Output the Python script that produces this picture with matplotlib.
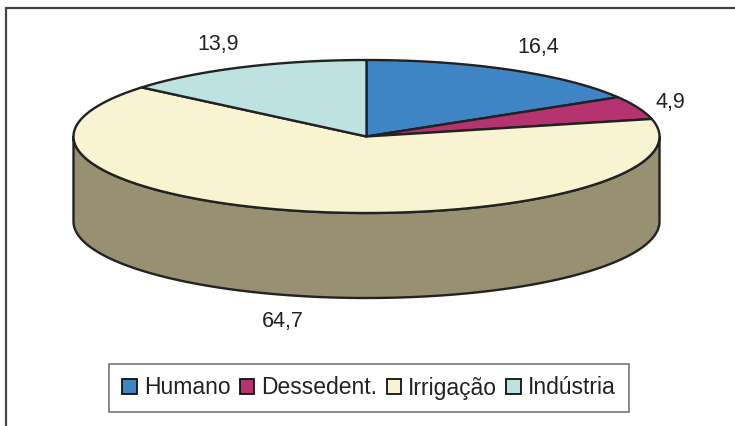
import numpy as np
import matplotlib
matplotlib.use("Agg")
import matplotlib.pyplot as plt
from matplotlib.patches import Polygon, Patch

categories = ["Humano", "Dessedent.", "Irrigação", "Indústria"]
values = [16.4, 4.9, 64.7, 13.9]
labels = ["16,4", "4,9", "64,7", "13,9"]
colors = ["#3F85C6", "#B5336F", "#F8F4D2", "#BEE2E0"]
side_colors = ["#2F5F8E", "#7E2450", "#989072", "#88A3A1"]

plt.rcParams['font.family'] = ['Liberation Sans', 'DejaVu Sans']

W, H = 735, 426
fig = plt.figure(figsize=(W / 100, H / 100), dpi=100)
ax = fig.add_axes([0, 0, 1, 1])
ax.set_xlim(0, W)
ax.set_ylim(H, 0)
ax.axis('off')

cx, cy, rx, ry, depth = 366.5, 136.5, 293, 76.5, 85
edge = "#222222"

def pt(t, dy=0.0):
    return cx + rx * np.sin(t), cy - ry * np.cos(t) + dy

total = sum(values)
bounds = np.concatenate([[0], np.cumsum(values) / total * 2 * np.pi])

# side wall (front half: t in [pi/2, 3pi/2])
for i in range(len(values)):
    a = max(bounds[i], np.pi / 2)
    b = min(bounds[i + 1], 3 * np.pi / 2)
    if b <= a:
        continue
    t = np.linspace(a, b, 200)
    xt, yt = pt(t)
    xb, yb = pt(t[::-1], depth)
    poly = np.column_stack([np.concatenate([xt, xb]), np.concatenate([yt, yb])])
    ax.add_patch(Polygon(poly, closed=True, facecolor=side_colors[i],
                         edgecolor=edge, linewidth=1.7, joinstyle='round'))

# top wedges
for i in range(len(values)):
    t = np.linspace(bounds[i], bounds[i + 1], 300)
    xt, yt = pt(t)
    poly = np.column_stack([np.concatenate([[cx], xt]), np.concatenate([[cy], yt])])
    ax.add_patch(Polygon(poly, closed=True, facecolor=colors[i],
                         edgecolor=edge, linewidth=1.7, joinstyle='round'))

# labels
xf = [1.19, 1.12, 1.24, 1.20]
yf = [1.33, 1.20, 1.35, 1.33]
for i in range(len(values)):
    m = (bounds[i] + bounds[i + 1]) / 2
    lx = cx + xf[i] * rx * np.sin(m)
    ly = cy - yf[i] * ry * np.cos(m) + (depth if np.cos(m) < 0 else 0)
    ax.text(lx, ly, labels[i], ha='center', va='center', fontsize=15.5,
            color='#222222')

# outer frame (top and left)
ax.plot([5, W], [7.5, 7.5], color='#444444', linewidth=1.6, solid_capstyle='butt')
ax.plot([6.5, 6.5], [7.5, H], color='#444444', linewidth=1.6, solid_capstyle='butt')

handles = [Patch(facecolor=c, edgecolor='#111111', linewidth=1.3) for c in colors]
leg = ax.legend(handles, categories, loc='center', bbox_to_anchor=(369 / W, 1 - 388 / H),
                ncol=4, fontsize=16.5, frameon=True, fancybox=False,
                handlelength=0.65, handleheight=0.65, handletextpad=0.3,
                columnspacing=0.4, borderpad=0.55, borderaxespad=0)
leg.get_frame().set_edgecolor('#555555')
leg.get_frame().set_linewidth(1.2)
for txt in leg.get_texts():
    txt.set_color('#222222')

fig.savefig("out.png", dpi=100)
